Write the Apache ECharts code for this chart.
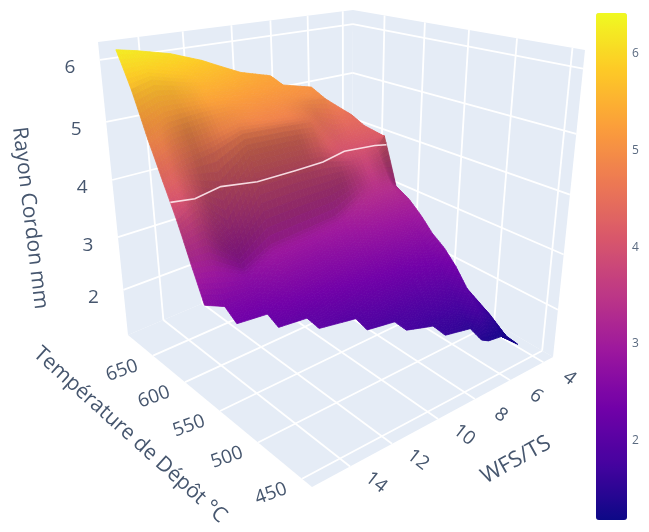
<!DOCTYPE html>
<html><head><meta charset="utf-8">
<style>html,body{margin:0;padding:0;background:#fff}#c{width:649px;height:532px;filter:blur(0.6px)}</style>
<script src="https://cdn.jsdelivr.net/npm/echarts@6/dist/echarts.min.js"></script>
</head><body><div id="c"></div>
<script>
// ---- data ----
const N = null;
const wfsValues = [15.6,14.66,13.2,11.85,10.25,8.8,7.3,5.85,5.4,4.6,4.35];
const tempValues = [672,655,637,620,603,587,571,555,541,526,512,498,485,473,460];
const radiusRows = [
 [6.25,6.18,6.04,5.83,5.47,5.30,N,N,N,N,N],
 [5.65,5.75,5.60,5.50,5.30,5.20,5.04,N,N,N,N],
 [4.90,5.10,5.15,5.15,5.00,4.95,4.90,4.45,N,N,N],
 [4.30,4.45,4.55,4.75,4.70,4.65,4.15,4.32,N,N,N],
 [3.75,3.95,3.30,4.05,4.05,4.00,3.85,3.95,4.15,N,N],
 [3.15,3.10,2.75,3.00,3.05,3.10,3.40,3.45,3.26,N,N],
 [2.60,2.45,2.50,2.70,2.72,2.85,3.05,3.15,3.13,N,N],
 [N,2.30,2.25,2.40,2.50,2.60,2.75,2.85,2.92,N,N],
 [N,N,2.15,2.10,2.25,2.35,2.45,2.60,2.69,N,N],
 [N,N,N,2.06,1.95,2.10,2.15,2.35,2.52,N,N],
 [N,N,N,N,1.88,1.80,1.90,2.05,2.30,N,N],
 [N,N,N,N,N,1.78,1.63,1.75,2.02,N,N],
 [N,N,N,N,N,N,1.60,1.50,1.75,1.54,N],
 [N,N,N,N,N,N,N,1.42,1.34,1.30,1.28],
 [N,N,N,N,N,N,N,N,N,N,1.25]
];
const wfsTicks = [4,6,8,10,12,14];
const tempTicks = [450,500,550,600,650];
const radiusTicks = [2,3,4,5,6];
const colourbarTicks = [2,3,4,5,6];
const contourLevel = 4;
const colourMin = 1.16, colourMax = 6.4;
const plasma = ['#0d0887','#46039f','#7201a8','#9c179e','#bd3786','#d8576b','#ed7953','#fb9f3a','#fdca26','#f0f921'];

// ---- view of the 3D box ----
const wfsKnots = [3.45,4,6,8,10,12,14,15.8], wfsPos = [0,.04,.178,.324,.477,.668,.842,1];
const tempKnots = [440,450,500,550,600,650,690], tempPos = [0,.054,.293,.5,.69,.864,1];
const radiusTickPos = [.154,.334,.529,.727,.939];
const zMin = 1.1, zMax = 6.3;
const corner = {
  '000':[553,357],'100':[312,487],'110':[128,335],'010':[352,240],
  '001':[585,50], '101':[312,132],'111':[98,42], '011':[353,10]
};
const tickColor = '#46566e', font = 'Open Sans';

function warp(x,k,p){
  let i=0; while(i<k.length-2 && x>k[i+1]) i++;
  return p[i]+(x-k[i])/(k[i+1]-k[i])*(p[i+1]-p[i]);
}
const aOf = u=>warp(u,wfsKnots,wfsPos), bOf = v=>warp(v,tempKnots,tempPos), cOf = z=>(z-zMin)/(zMax-zMin);
function proj(a,b,c){
  let x=0,y=0;
  for(const A of [0,1])for(const B of [0,1])for(const C of [0,1]){
    const w=(A?a:1-a)*(B?b:1-b)*(C?c:1-c), p=corner[''+A+B+C];
    x+=w*p[0]; y+=w*p[1];
  }
  return [x,y];
}
function hex(c){return [1,3,5].map(i=>parseInt(c.substr(i,2),16));}
const plasmaRgb = plasma.map(hex);
function colour(z,s){
  let t=(z-colourMin)/(colourMax-colourMin); t=Math.max(0,Math.min(1,t))*(plasmaRgb.length-1);
  const i=Math.min(plasmaRgb.length-2,Math.floor(t)), f=t-i;
  const r=[0,1,2].map(k=>Math.min(255,Math.round((plasmaRgb[i][k]*(1-f)+plasmaRgb[i+1][k]*f)*s)));
  return 'rgb('+r.join(',')+')';
}
const nR=tempValues.length, nC=wfsValues.length;
const cells=[], cellAt={};
for(let r=0;r<nR-1;r++)for(let c=nC-2;c>=0;c--){
  const v=[[r,c],[r,c+1],[r+1,c+1],[r+1,c]];
  const ok=v.filter(p=>radiusRows[p[0]][p[1]]!=null);
  let cell=null;
  if(ok.length===4) cell={v,r,c};
  else if(ok.length===3 && c>=7){
    const i=v.findIndex(p=>radiusRows[p[0]][p[1]]==null);
    const w=v.slice(); w[i]=v[(i+1)%4]; cell={v:w,r,c};
  }
  if(cell){cells.push(cell);cellAt[r+'_'+c]=cell;}
}
const vert=(r,c)=>({a:aOf(wfsValues[c]),b:bOf(tempValues[r]),c:cOf(radiusRows[r][c]),z:radiusRows[r][c]});
cells.forEach(cell=>{
  const q=cell.v.map(p=>vert(p[0],p[1]));
  cell.q=q;
  const db=((q[0].b+q[1].b)-(q[2].b+q[3].b))/2, da=((q[0].a+q[3].a)-(q[1].a+q[2].a))/2;
  const gb=db?((q[0].c+q[1].c)-(q[2].c+q[3].c))/2/db:0, ga=da?((q[0].c+q[3].c)-(q[1].c+q[2].c))/2/da:0;
  const nz=1/Math.sqrt(1+ga*ga*.3+gb*gb);
  let s=Math.max(.76,Math.min(1,.76+(nz-.42)/(.55-.42)*.24));
  if(cell.c===0) s=Math.min(1,s+.16);
  cell.shade=s;
});
function shadeOf(cell,s,t){
  const nb=(r,c)=>{const o=cellAt[r+'_'+c];return o?o.shade:cell.shade;};
  const rowW=Math.pow(Math.abs(t-.5)/.5,2)*.5, colW=Math.abs(s-.5);
  const rs=nb(cell.r+(t<.5?-1:1),cell.c), cs=nb(cell.r,cell.c+(s<.5?-1:1));
  const crs=nb(cell.r+(t<.5?-1:1),cell.c+(s<.5?-1:1));
  return cell.shade*(1-rowW)*(1-colW)+rs*rowW*(1-colW)+cs*(1-rowW)*colW+crs*rowW*colW;
}
const contourPts=[];
for(let c=0;c<nC;c++){
  for(let r=0;r<nR-1;r++){
    const z0=radiusRows[r][c], z1=radiusRows[r+1][c];
    if(z0!=null&&z1!=null&&z0>=contourLevel&&z1<contourLevel){
      const f=(z0-contourLevel)/(z0-z1);
      contourPts.push([aOf(wfsValues[c]),bOf(tempValues[r])+f*(bOf(tempValues[r+1])-bOf(tempValues[r]))]);
      break;
    }
  }
}
const sub=8;
function renderSurface(params,api){
  const cell=cells[params.dataIndex], vs=cell.q;
  const mix=(k,s,t)=>(vs[0][k]*(1-s)*(1-t)+vs[1][k]*s*(1-t)+vs[2][k]*s*t+vs[3][k]*(1-s)*t);
  const P=(s,t)=>api.coord(proj(mix('a',s,t),mix('b',s,t),mix('c',s,t)));
  const ch=[];
  for(let i=0;i<sub;i++)for(let j=0;j<sub;j++){
    const s0=i/sub,s1=(i+1)/sub,t0=j/sub,t1=(j+1)/sub,sm=(s0+s1)/2,tm=(t0+t1)/2;
    const col=colour(mix('z',sm,tm),shadeOf(cell,sm,tm));
    ch.push({type:'polygon',shape:{points:[P(s0,t0),P(s1,t0),P(s1,t1),P(s0,t1)]},style:{fill:col,stroke:col,lineWidth:.8},silent:true});
  }
  return {type:'group',children:ch};
}
function renderBox(params,api){
  const ch=[], C=(a,b,c)=>api.coord(proj(a,b,c));
  const poly=pts=>ch.push({type:'polygon',shape:{points:pts},style:{fill:'#e5ecf6'},silent:true});
  poly([C(0,0,0),C(1,0,0),C(1,1,0),C(0,1,0)]);
  poly([C(1,1,0),C(0,1,0),C(0,1,1),C(1,1,1)]);
  poly([C(0,1,0),C(0,0,0),C(0,0,1),C(0,1,1)]);
  const line=(p,q)=>ch.push({type:'line',shape:{x1:p[0],y1:p[1],x2:q[0],y2:q[1]},style:{stroke:'#fff',lineWidth:1.8},silent:true});
  wfsTicks.forEach(u=>{const a=aOf(u);line(C(a,0,0),C(a,1,0));line(C(a,1,0),C(a,1,1));});
  tempTicks.forEach(v=>{const b=bOf(v);line(C(0,b,0),C(1,b,0));line(C(0,b,0),C(0,b,1));});
  radiusTicks.forEach((z,i)=>{const c=radiusTickPos[i];line(C(1,1,c),C(0,1,c));line(C(0,1,c),C(0,0,c));});
  const label=(p,dx,dy,t,rot)=>ch.push({type:'text',x:p[0]+dx,y:p[1]+dy,rotation:rot*Math.PI/180,silent:true,
    style:{text:String(t),fill:tickColor,font:'19px "'+font+'"',textAlign:'center',textVerticalAlign:'middle'}});
  wfsTicks.forEach(u=>label(C(aOf(u),0,0),26,16,u,-38));
  tempTicks.forEach(v=>label(C(1,bOf(v),0),-31,15,v,20));
  radiusTicks.forEach((z,i)=>label(C(1,1,radiusTickPos[i]),-30,8,z,0));
  return {type:'group',children:ch};
}
function renderContour(params,api){
  const pts=contourPts.map(p=>api.coord(proj(p[0],p[1],cOf(contourLevel))));
  return {type:'polyline',shape:{points:pts},style:{stroke:'rgba(255,235,240,.9)',lineWidth:1.6,fill:null},silent:true};
}
const chart=echarts.init(document.getElementById('c'),null,{renderer:'canvas'});
const titleStyle=(t,x,y,rot,size,col)=>({type:'text',x,y,rotation:rot*Math.PI/180,silent:true,
  style:{text:t,fill:col||tickColor,font:size+'px "'+font+'"',textAlign:'center',textVerticalAlign:'middle'}});
chart.setOption({
  animation:false,
  backgroundColor:'#fff',
  grid:[{left:0,top:0,width:649,height:532,show:false},{left:596,top:15,width:31,height:507,show:false}],
  xAxis:[{type:'value',min:0,max:649,show:false,gridIndex:0},{type:'value',min:0,max:1,show:false,gridIndex:1}],
  yAxis:[{type:'value',min:0,max:532,inverse:true,show:false,gridIndex:0},
    {type:'value',gridIndex:1,position:'right',min:colourMin,max:colourMax,
     axisLine:{show:false},axisTick:{show:false},splitLine:{show:false},
     axisLabel:{customValues:colourbarTicks,color:'#5a6a80',fontFamily:font,fontSize:12,margin:5}}],
  visualMap:{type:'continuous',min:colourMin,max:colourMax,seriesIndex:4,left:596,top:13,padding:0,itemWidth:31,itemHeight:507,
    calculable:false,realtime:false,inRange:{color:plasma},showLabel:false,silent:true,hoverLink:false},
  series:[
    {type:'custom',coordinateSystem:'cartesian2d',xAxisIndex:0,yAxisIndex:0,clip:false,silent:true,data:[[0,0]],renderItem:renderBox,z:1},
    {type:'custom',coordinateSystem:'cartesian2d',xAxisIndex:0,yAxisIndex:0,clip:false,silent:true,data:cells.map((c,i)=>[i,0]),renderItem:renderSurface,z:2},
    {type:'custom',coordinateSystem:'cartesian2d',xAxisIndex:0,yAxisIndex:0,clip:false,silent:true,data:[[0,0]],renderItem:renderContour,z:3},
    {type:'line',xAxisIndex:0,yAxisIndex:0,data:[],z:0,silent:true},
    {type:'scatter',xAxisIndex:1,yAxisIndex:1,data:[[0,2]],symbolSize:0,silent:true}
  ],
  graphic:[
    titleStyle('Rayon Cordon mm',30,218,-83,21),
    titleStyle('Température de Dépôt °C',130,435,-42,21),
    titleStyle('WFS/TS',516,460,29,22),
    titleStyle('R =  4 mm',472,145,0,21,'#1a1a1a'),
    {type:'line',shape:{x1:411,y1:146,x2:391,y2:143},style:{stroke:'#4472c4',lineWidth:2.4},silent:true},
    {type:'polygon',shape:{points:[[384,142],[394,138],[393,148]]},style:{fill:'#4472c4'},silent:true}
  ]
});
</script></body></html>
